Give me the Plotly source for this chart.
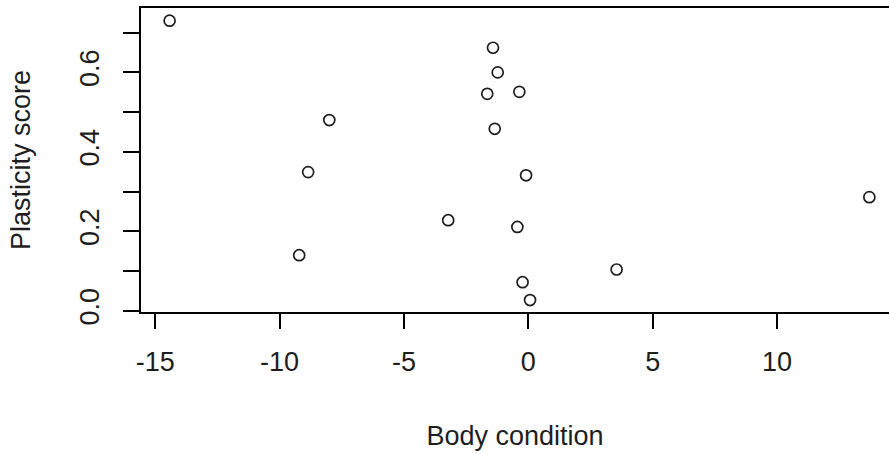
import plotly.graph_objects as go

# Body condition index and plasticity score per individual
body_condition = [-14.42, -8.00, -8.85, -9.21, -3.22, -1.42, -1.23, -1.65,
                  -0.36, -1.35, -0.09, -0.44, 3.55, -0.23, 0.07, 13.71]
plasticity = [0.730, 0.480, 0.349, 0.140, 0.228, 0.662, 0.600, 0.546,
              0.551, 0.458, 0.341, 0.211, 0.104, 0.072, 0.027, 0.286]

x_ticks = [-15, -10, -5, 0, 5, 10]
x_tick_labels = ["-15", "-10", "-5", "0", "5", "10"]
y_ticks = [0.0, 0.1, 0.2, 0.3, 0.4, 0.5, 0.6, 0.7]
y_tick_labels = ["0.0", "", "0.2", "", "0.4", "", "0.6", ""]

FONT = "Liberation Sans, Arial, sans-serif"
INK = "#1e1e1e"

fig = go.Figure(
    go.Scatter(
        x=body_condition,
        y=plasticity,
        mode="markers",
        marker=dict(symbol="circle-open", size=11, color=INK,
                    line=dict(width=1.7, color=INK)),
        hoverinfo="x+y",
    )
)

fig.update_layout(
    width=889,
    height=453,
    margin=dict(l=141, r=0, t=8, b=141),
    paper_bgcolor="white",
    plot_bgcolor="white",
    showlegend=False,
    font=dict(family=FONT, size=27, color=INK),
)

fig.update_xaxes(
    range=[-15.57, 14.50],
    tickmode="array",
    tickvals=x_ticks,
    ticktext=x_tick_labels,
    ticks="outside",
    ticklen=15,
    tickwidth=1.5,
    tickcolor="black",
    ticklabelstandoff=10,
    showline=True,
    linecolor="black",
    linewidth=1.5,
    mirror=True,
    showgrid=False,
    zeroline=False,
    title=dict(text="Body condition", standoff=50, font=dict(size=27)),
)

fig.update_yaxes(
    range=[-0.003, 0.762],
    tickmode="array",
    tickvals=y_ticks,
    ticktext=y_tick_labels,
    tickangle=-90,
    ticks="outside",
    ticklen=16,
    tickwidth=1.5,
    tickcolor="black",
    ticklabelstandoff=13,
    showline=True,
    linecolor="black",
    linewidth=1.5,
    mirror=False,
    showgrid=False,
    zeroline=False,
    title=dict(text="Plasticity score", standoff=37, font=dict(size=27)),
)

fig.write_html("out.html")
